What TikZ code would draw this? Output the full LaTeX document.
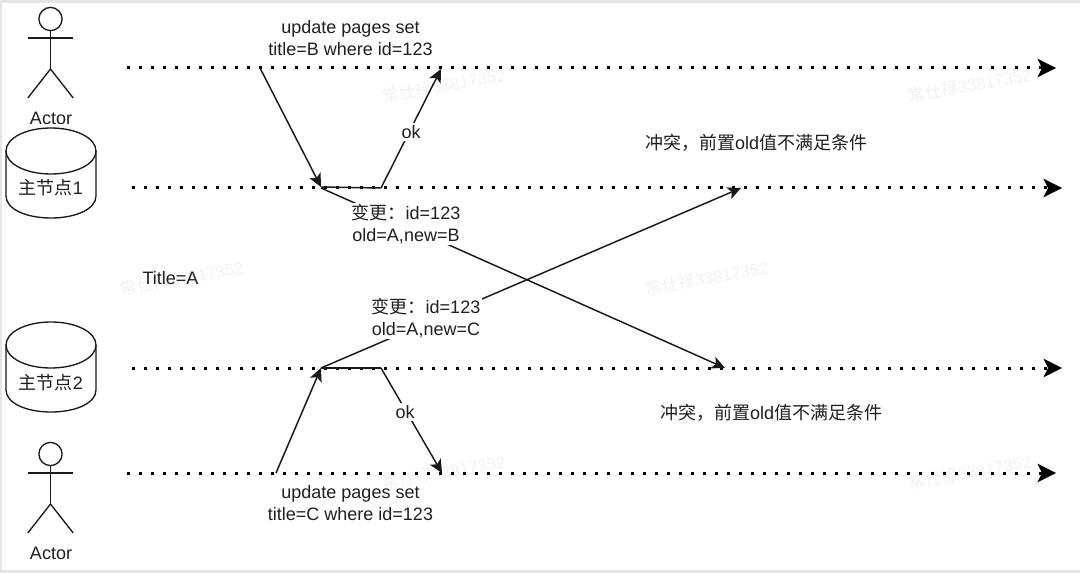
\documentclass[tikz,border=0pt]{standalone}
\usepackage{fontspec}
\usetikzlibrary{arrows.meta}
\setmainfont{Liberation Sans}
\newfontfamily\cjkfam{Noto Sans CJK SC}
\newcommand{\zh}[1]{{\cjkfam #1}}
\tikzset{
  x=.75pt,y=-.75pt,
  lbl/.style={font=\fontsize{13.5pt}{16pt}\selectfont,text=black!88,inner sep=0pt,align=center},
  lblbg/.style={lbl,fill=white,inner sep=1.5pt},
  mark text/.style={font=\fontsize{12.5pt}{15pt}\selectfont,text=black!5,rotate=10,inner sep=0pt},
  shapeline/.style={draw=black!90,line width=1pt},
  timeline/.style={draw=black,line width=2.25pt,dash pattern=on 2.25pt off 6.75pt,
    -{Stealth[length=14pt,width=14pt,inset=3.5pt,line width=0pt]}},
  msg/.style={draw=black!90,line width=1.1pt,-{Stealth[length=10pt,width=9.5pt,inset=2.5pt,line width=0pt]}},
  plain/.style={draw=black!90,line width=1.1pt},
}
\newcommand{\actorfig}[2]{%
  \draw[shapeline] (#1,#2) circle[radius=11.6];
  \draw[shapeline] (#1,#2+11.6) -- (#1,#2+50);
  \draw[shapeline] (#1-22.7,#2+19) -- (#1+22.7,#2+19);
  \draw[shapeline] (#1-22.7,#2+79) -- (#1,#2+50) -- (#1+22.7,#2+79);
}
\newcommand{\dbfig}[2]{% top y = #2
  \draw[shapeline,fill=white] (6,#2+23) .. controls (6,#2+10) and (26,#2) .. (51,#2)
     .. controls (76,#2) and (96,#2+10) .. (96,#2+23) -- (96,#2+68)
     .. controls (96,#2+81) and (76,#2+90) .. (51,#2+90)
     .. controls (26,#2+90) and (6,#2+81) .. (6,#2+68) -- cycle;
  \draw[shapeline] (6,#2+23) .. controls (6,#2+36) and (26,#2+46) .. (51,#2+46)
     .. controls (76,#2+46) and (96,#2+36) .. (96,#2+23);
}
\begin{document}
\begin{tikzpicture}
\useasboundingbox (0,0) rectangle (1080,573);
\fill[black!10] (0,0) rectangle (1080,573);
\fill[white] (2,3) rectangle (1080,570);
% watermarks
\node[mark text] (w1) at (444,85) {\zh{常仕禄}33817352};
\node[mark text] (w2) at (970,85) {\zh{常仕禄}33817352};
\node[mark text] (w3) at (182,278) {\zh{常仕禄}33817352};
\node[mark text] (w4) at (707,278) {\zh{常仕禄}33817352};
\node[mark text] (w5) at (444,472) {\zh{常仕禄}33817352};
\node[mark text] (w6) at (970,472) {\zh{常仕禄}33817352};
% anchor points
\coordinate (t1s) at (127,68);  \coordinate (t1e) at (1056,68);
\coordinate (t2s) at (132,188); \coordinate (t2e) at (1062,188);
\coordinate (t3s) at (132,368); \coordinate (t3e) at (1062,368);
\coordinate (t4s) at (127,473); \coordinate (t4e) at (1056,473);
\coordinate (a1) at (260,68);  \coordinate (a2) at (321,187);
\coordinate (a3) at (381,188); \coordinate (a4) at (441,69);
\coordinate (a5) at (321,188); \coordinate (a6) at (725,368);
\coordinate (b1) at (276,473); \coordinate (b2) at (321,368);
\coordinate (b3) at (381,368); \coordinate (b4) at (442,473);
\coordinate (b5) at (321,368); \coordinate (b6) at (741,188);
% timelines
\draw[timeline] (t1s) -- (t1e);
\draw[timeline] (t2s) -- (t2e);
\draw[timeline] (t3s) -- (t3e);
\draw[timeline] (t4s) -- (t4e);
% messages
\draw[msg] (a1) -- (a2);
\draw[plain] (a2) -- (a3);
\draw[msg] (a3) -- (a4);
\draw[msg] (a5) -- (a6);
\draw[msg] (b1) -- (b2);
\draw[plain] (b2) -- (b3);
\draw[msg] (b3) -- (b4);
\draw[msg] (b5) -- (b6);
% actors and databases
\actorfig{50.5}{19}
\actorfig{50.5}{454}
\dbfig{51}{128}
\dbfig{51}{322}
% labels
\node[lbl] (actor1) at (51,118) {Actor};
\node[lbl] (actor2) at (51,553) {Actor};
\node[lbl] (db1) at (51,188) {\zh{主节点}1};
\node[lbl] (db2) at (51,383) {\zh{主节点}2};
\node[lbl] (upd1) at (350.5,38) {update pages set\\title=B where id=123};
\node[lbl] (upd2) at (350.5,503) {update pages set\\title=C where id=123};
\node[lblbg] (ok1) at (411,132) {ok};
\node[lblbg] (ok2) at (405,412) {ok};
\node[lblbg] (chg1) at (406,224) {\zh{变更：}id=123\\old=A,new=B};
\node[lblbg] (chg2) at (426,318) {\zh{变更：}id=123\\old=A,new=C};
\node[lbl] (title) at (170.5,278) {Title=A};
\node[lbl] (conf1) at (756,143) {\zh{冲突，前置}old\zh{值不满足条件}};
\node[lbl] (conf2) at (771,413) {\zh{冲突，前置}old\zh{值不满足条件}};
\end{tikzpicture}
\end{document}
